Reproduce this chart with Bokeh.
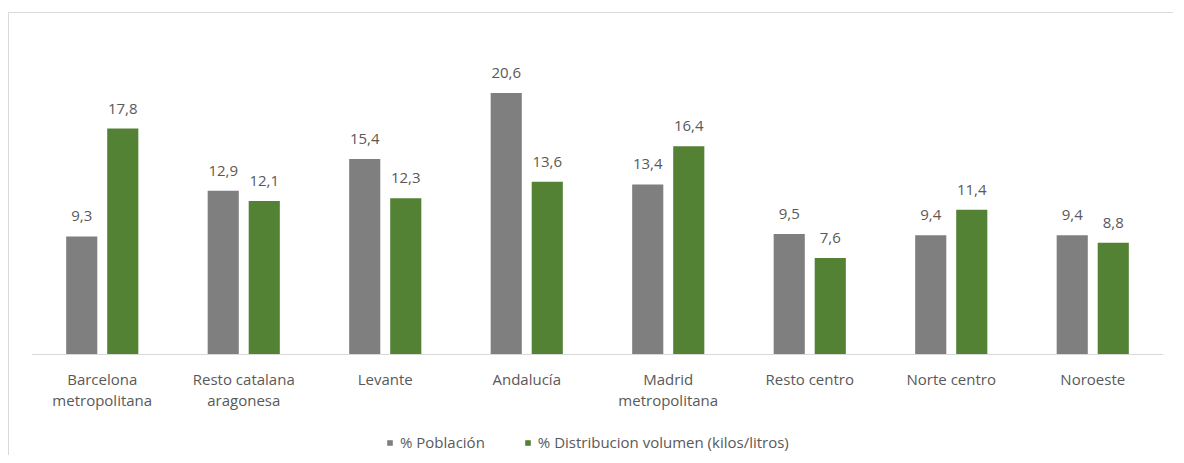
from bokeh.plotting import figure
from bokeh.models import ColumnDataSource, Legend, LegendItem, Range1d, Span
from bokeh.transform import dodge
from bokeh.core.properties import value
from bokeh.embed import file_html
from bokeh.resources import INLINE

categories = ["Barcelona\nmetropolitana", "Resto catalana\naragonesa", "Levante", "Andalucía",
              "Madrid\nmetropolitana", "Resto centro", "Norte centro", "Noroeste"]
poblacion = [9.3, 12.9, 15.4, 20.6, 13.4, 9.5, 9.4, 9.4]
distribucion = [17.8, 12.1, 12.3, 13.6, 16.4, 7.6, 11.4, 8.8]
series_names = ["% Población", "% Distribucion volumen (kilos/litros)"]

def fmt(v):
    return f"{v:.1f}".replace(".", ",")

src = ColumnDataSource(dict(
    cat=categories,
    pob=poblacion,
    dist=distribucion,
    pob_lbl=[fmt(v) for v in poblacion],
    dist_lbl=[fmt(v) for v in distribucion],
    zero=[0] * len(categories),
))

FONT = "Open Sans"
TXT = "#595959"
GRAY = "#7f7f7f"
GREEN = "#548235"

# frame spans from top of plot area down to the bottom of the chart box;
# value 0 sits 101 px above the frame bottom (same px/unit as the bars)
FRAME_H = 419
Y_TOP = 25.05
PX_PER_UNIT = 318 / Y_TOP
Y_BOTTOM = -101 / PX_PER_UNIT

p = figure(x_range=categories, y_range=Range1d(Y_BOTTOM, Y_TOP), frame_width=1132, frame_height=FRAME_H,
           output_backend="svg", toolbar_location=None, y_axis_location=None, x_axis_location=None,
           min_border_left=22, min_border_right=10, min_border_top=23, min_border_bottom=0)
p.styles = {"border-top": "1px solid #d9d9d9", "border-left": "1px solid #d9d9d9"}
p.margin = (12, 0, 0, 8)
p.outline_line_color = None
p.xgrid.grid_line_color = None
p.ygrid.grid_line_color = None
p.background_fill_color = "white"
p.border_fill_color = "white"

p.add_layout(Span(location=0, dimension="width", line_color="#d9d9d9", line_width=1))

off = 0.145
bw = 0.22
r1 = p.vbar(x=dodge("cat", -off, range=p.x_range), top="pob", width=bw, source=src,
            fill_color=GRAY, line_color=None)
r2 = p.vbar(x=dodge("cat", off, range=p.x_range), top="dist", width=bw, source=src,
            fill_color=GREEN, line_color=None)

for xo, col, lbl in [(-off, "pob", "pob_lbl"), (off, "dist", "dist_lbl")]:
    p.text(x=dodge("cat", xo, range=p.x_range), y=col, text=lbl, source=src,
           text_align="center", text_baseline="alphabetic", y_offset=-20,
           text_font=value(FONT), text_font_size="15px", text_color=TXT)

# category labels below the baseline
p.text(x="cat", y="zero", text="cat", source=src, text_align="center", text_baseline="top",
       y_offset=14, text_line_height=1.05,
       text_font=value(FONT), text_font_size="15px", text_color=TXT)

legend = Legend(items=[LegendItem(label=series_names[0], renderers=[r1]),
                       LegendItem(label=series_names[1], renderers=[r2])],
                orientation="horizontal", location=(355, 3),
                label_text_font=FONT, label_text_font_size="15px", label_text_color=TXT,
                glyph_width=7, glyph_height=7, label_standoff=7, spacing=39,
                padding=0, margin=0, border_line_color=None, background_fill_alpha=0)
p.add_layout(legend)

open("out.html", "w").write(file_html(p, INLINE))
